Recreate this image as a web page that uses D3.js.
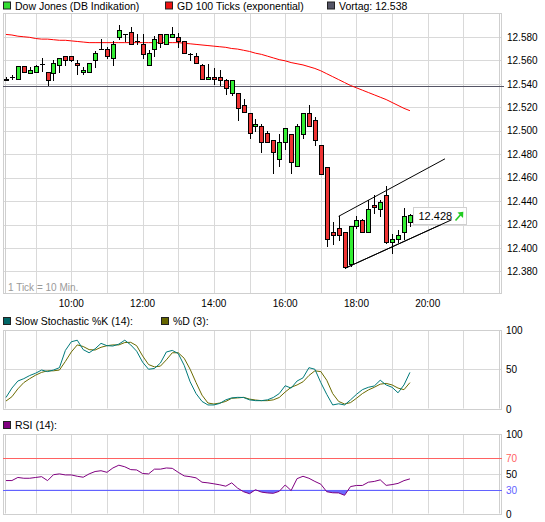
<!DOCTYPE html>
<html><head><meta charset="utf-8">
<script src="https://cdn.jsdelivr.net/npm/d3@7"></script>
<style>
body{margin:0;background:#fff;}
text{font-family:"Liberation Sans",Arial,sans-serif;}
</style>
</head><body>
<svg id="c" width="545" height="522"></svg>
<script>
// ---------- DATA ----------
const startMinute = 490;          // first candle 08:10
const tickMinutes = 10;           // 1 Tick = 10 Min.
const opens  = [12543,12546,12544,12555,12549,12550,12557,12550,12549,12556,12564,12564,12558,12550,12550,12560,12570,12570,12562,12580,12582,12584,12576,12574,12556,12570,12582,12574,12580,12580,12576,12565,12564,12556,12544,12546,12546,12543,12532,12532,12522,12515,12504,12504,12498,12492,12476,12490,12497,12470,12497,12515,12509,12488,12469,12414,12417,12414,12386,12419,12424,12414,12437,12433,12445,12405,12408,12414,12422];
const highs  = [12546,12547,12555,12555,12554,12556,12562,12550,12560,12562,12564,12564,12560,12554,12558,12568,12578,12571,12576,12590,12582,12588,12582,12582,12569,12581,12582,12582,12588,12583,12576,12566,12566,12557,12557,12553,12552,12544,12543,12532,12527,12515,12510,12506,12500,12492,12497,12502,12497,12506,12515,12522,12512,12488,12469,12422,12427,12414,12419,12427,12425,12441,12445,12441,12453,12412,12415,12434,12429];
const lows   = [12543,12544,12544,12550,12549,12550,12551,12539,12543,12550,12556,12559,12548,12548,12550,12554,12570,12562,12556,12578,12576,12574,12574,12562,12556,12564,12571,12574,12580,12571,12566,12560,12558,12544,12544,12540,12539,12531,12530,12509,12516,12494,12500,12482,12490,12464,12470,12484,12464,12470,12494,12504,12488,12463,12402,12403,12407,12383,12385,12417,12414,12414,12430,12427,12404,12396,12405,12408,12419];
const closes = [12544,12546,12555,12550,12552,12555,12557,12543,12558,12562,12560,12560,12556,12552,12558,12566,12570,12564,12574,12586,12582,12574,12576,12565,12566,12578,12575,12582,12582,12576,12566,12565,12558,12544,12546,12544,12543,12536,12543,12519,12516,12498,12506,12490,12490,12482,12490,12502,12473,12504,12515,12504,12492,12463,12408,12411,12411,12384,12419,12424,12414,12433,12435,12439,12405,12408,12411,12427,12428];
const ema100 = [12582,12581.5,12580.5,12580,12579.5,12578.5,12578,12578,12577.5,12577,12577,12576.5,12576,12575.5,12575,12575,12575,12575,12575,12575,12575,12575,12575,12575,12575,12575,12575,12575,12575,12575,12574.5,12574,12573.5,12573,12572.5,12572,12571.5,12571,12570,12569.5,12568.5,12567.5,12566,12565,12563.5,12562,12560.5,12559.5,12558,12557,12556,12554.5,12553,12551,12548.5,12546,12543.5,12541,12538.5,12536.5,12534.5,12532.5,12530.5,12528.5,12526.5,12524,12521.5,12519,12517];
const stochK = [14,26,35,38,42,45,49,47,49,52,74,85,87,75,71,76,83,80,79.6,82,87,81,73,59,50,51,58,72,74,70,55,34,19,9,4.5,4.5,6.5,11,13.5,14.2,14,11,10,10,11,14,19,29,26,35,39,52,50,33,18,4.5,6,4.5,11,18,24,27,28.7,36,30,27,20,30,46];
const stochD = [9.5,15,25,33,38,42.5,46,48,48,49,60,72,81,79,75,74.5,78,80,81,81,84,84.3,80,67,56,53,54,62,71,71,64,50,33,17,7,5.7,7,9,13,13.5,14.2,12,10.8,10,10,11,14,21,27,30,34,42,48,47,36,19,9,5.7,7.5,13,19,23.6,27,31,32,30,26,24,33];
const rsi14  = [41.6,41.6,45.5,44.5,44.5,45.5,46.5,41.5,49,50,48.7,48.7,47,45.8,50,53,54,52,57.5,61,59,55.4,55,50.5,50,56,56,57.5,57,52,47.5,46.5,45,39.5,38.7,37.5,36.2,34.5,38.7,32,27.5,25,30,27,26,25.5,28,36,29,44,47,44.5,40.5,37,27.5,26.2,26,23,34,35.4,35.4,39.5,40.5,42.5,35.5,36.5,38,41.5,43.7];
const priceTicks = [12380,12400,12420,12440,12460,12480,12500,12520,12540,12560,12580];
const hourGrid = [540,600,660,720,780,840,900,960,1020,1080,1140,1200,1260];
const hourLabels = [600,720,840,960,1080,1200];
const prevClose = 12538;
const channelUpper = [[1050,12427],[1229,12476]];
const channelLower = [[1062,12383],[1240,12424]];
const stochTicks = [0,50,100];
const rsiTicks = [0,30,50,70,100];

// ---------- LAYOUT ----------
const svg = d3.select("#c");
const L = 3, R = 502;
const main = {top:13.3, bottom:293.3};
const stP = {top:330, bottom:408.5};
const rsP = {top:434.3, bottom:513.5};
const gridCol = "#d9d9d9", frameCol = "#cfcfcf";

const x = d3.scaleLinear().domain([485,1325]).range([L,R]);
const y = d3.scaleLinear().domain([12361.4,12600]).range([main.bottom,main.top]);
const ys = d3.scaleLinear().domain([0,100]).range([stP.bottom,stP.top]);
const yr = d3.scaleLinear().domain([0,100]).range([rsP.bottom,rsP.top]);
const px = v => Math.round(v)+0.5;
const tOf = i => startMinute + tickMinutes*i;
const idx = d3.range(opens.length);

function panel(p, hTicks, yScale){
  const g = svg.append("g");
  g.selectAll(".vg").data(hourGrid).join("line")
    .attr("x1",d=>px(x(d))).attr("x2",d=>px(x(d)))
    .attr("y1",p.top).attr("y2",p.bottom).attr("stroke",gridCol);
  g.selectAll(".hg").data(hTicks).join("line")
    .attr("x1",L).attr("x2",R).attr("y1",d=>px(yScale(d))).attr("y2",d=>px(yScale(d))).attr("stroke",gridCol);
  // frame (double vertical edges)
  g.append("rect").attr("x",L+0.5).attr("y",px(p.top)).attr("width",R-L-1).attr("height",Math.round(p.bottom)-Math.round(p.top))
    .attr("fill","none").attr("stroke",frameCol);
  [L+2.5, R-2.5].forEach(xx=>g.append("line").attr("x1",xx).attr("x2",xx).attr("y1",p.top).attr("y2",p.bottom).attr("stroke",frameCol));
  return g;
}

function legend(items, yBase){
  items.forEach(it=>{
    svg.append("rect").attr("x",it.x+0.5).attr("y",yBase-7.5).attr("width",7).attr("height",7)
      .attr("fill",it.color).attr("stroke","#222");
    svg.append("text").attr("x",it.x+12).attr("y",yBase).attr("font-size","10.5px").attr("fill","#000").text(it.label);
  });
}

// ---------- MAIN PANEL ----------
panel(main, priceTicks.filter(v=>v!==12540), y);
// 12.540 gridline still drawn lightly
svg.append("line").attr("x1",L).attr("x2",R).attr("y1",px(y(12540))).attr("y2",px(y(12540))).attr("stroke",gridCol);
// previous close line
svg.append("line").attr("x1",L).attr("x2",R+2).attr("y1",px(y(prevClose))).attr("y2",px(y(prevClose)))
  .attr("stroke","#555566").attr("stroke-width",1);

// y labels
svg.selectAll(".pl").data(priceTicks).join("text")
  .attr("x",507).attr("y",d=>y(d)+3.8).attr("font-size","10px").attr("fill","#000")
  .text(d=>d3.format(".3f")(d/1000));
// x labels
const fmtH = m => (Math.floor(m/60))+":"+String(m%60).padStart(2,"0");
svg.selectAll(".xl").data(hourLabels).join("text")
  .attr("x",d=>x(d)).attr("y",307).attr("text-anchor","middle").attr("font-size","10px").attr("fill","#000")
  .text(fmtH);
svg.append("text").attr("x",8).attr("y",290.5).attr("font-size","10px").attr("fill","#9a9a9a").text("1 Tick = 10 Min.");

// EMA line
svg.append("path").datum(idx).attr("fill","none").attr("stroke","#ff0000").attr("stroke-width",1)
  .attr("d",d3.line().x(i=>x(tOf(i))).y(i=>y(ema100[i])));

// candles
const cg = svg.append("g");
idx.forEach(i=>{
  const cx = Math.round(x(tOf(i)));
  cg.append("line").attr("x1",cx+0.5).attr("x2",cx+0.5)
    .attr("y1",Math.round(y(highs[i]))).attr("y2",Math.round(y(lows[i]))+1).attr("stroke","#000");
  const top = Math.round(y(Math.max(opens[i],closes[i])));
  const bot = Math.round(y(Math.min(opens[i],closes[i])));
  const up = closes[i] >= opens[i];
  if (bot - top < 1){
    cg.append("line").attr("x1",cx-2).attr("x2",cx+3).attr("y1",top+0.5).attr("y2",top+0.5).attr("stroke","#000");
  } else {
    cg.append("rect").attr("x",cx-2+0.5).attr("y",top+0.5).attr("width",4).attr("height",bot-top)
      .attr("fill",up?"#33ee33":"#ee3333").attr("stroke","#000");
  }
});

// trend channel
[channelUpper, channelLower].forEach(seg=>{
  svg.append("line").attr("x1",x(seg[0][0])).attr("y1",y(seg[0][1]))
    .attr("x2",x(seg[1][0])).attr("y2",y(seg[1][1])).attr("stroke","#000").attr("stroke-width",1);
});

// last price box
const lastI = closes.length-1;
const bx = Math.round(x(tOf(lastI)))+3.5, by = Math.round(y(closes[lastI]))-7.5;
svg.append("rect").attr("x",bx).attr("y",by).attr("width",53).attr("height",17)
  .attr("fill","#fff").attr("fill-opacity",0.85).attr("stroke","#d0d0d0");
svg.append("text").attr("x",bx+5).attr("y",by+12.5).attr("font-size","11px").attr("fill","#000")
  .text(d3.format(".3f")(closes[lastI]/1000));
// redraw lower channel across box (line visible through it)
svg.append("line").attr("x1",x(channelLower[0][0])).attr("y1",y(channelLower[0][1]))
  .attr("x2",x(channelLower[1][0])).attr("y2",y(channelLower[1][1])).attr("stroke","#000");
// green arrow
const ax0 = bx+42, ay0 = by+13, ax1 = bx+49, ay1 = by+5;
svg.append("line").attr("x1",ax0).attr("y1",ay0).attr("x2",ax1).attr("y2",ay1).attr("stroke","#22cc22").attr("stroke-width",1.6);
svg.append("path").attr("d",`M${ax1+0.8},${ay1-0.8}L${ax1-5},${ay1}L${ax1+0.5},${ay1+5.5}Z`).attr("fill","#22cc22");

legend([
  {x:3,color:"#33dd33",label:"Dow Jones (DB Indikation)"},
  {x:165,color:"#ee1111",label:"GD 100 Ticks (exponential)"},
  {x:327,color:"#555566",label:"Vortag: 12.538"}
], 9.5);

// ---------- STOCHASTIC ----------
panel(stP, [50], ys);
svg.append("path").datum(idx).attr("fill","none").attr("stroke","#6b6b00")
  .attr("d",d3.line().x(i=>x(tOf(i))).y(i=>ys(stochD[i])));
svg.append("path").datum(idx).attr("fill","none").attr("stroke","#007a7a")
  .attr("d",d3.line().x(i=>x(tOf(i))).y(i=>ys(stochK[i])));
svg.selectAll(".sl").data(stochTicks).join("text")
  .attr("x",506).attr("y",d=>ys(d)+4).attr("font-size","10px").attr("fill","#000").text(d=>d);
legend([
  {x:3,color:"#006666",label:"Slow Stochastic %K (14):"},
  {x:161,color:"#666600",label:"%D (3):"}
], 325);

// ---------- RSI ----------
panel(rsP, [50], yr);
svg.append("clipPath").attr("id","below30").append("rect")
  .attr("x",L).attr("y",yr(30)).attr("width",R-L).attr("height",rsP.bottom-yr(30));
svg.append("path").datum(idx).attr("clip-path","url(#below30)").attr("fill","#6d6dff")
  .attr("d",d3.area().x(i=>x(tOf(i))).y0(yr(30)).y1(i=>yr(rsi14[i])));
svg.append("line").attr("x1",L).attr("x2",R).attr("y1",px(yr(70))).attr("y2",px(yr(70))).attr("stroke","#ff6262");
svg.append("line").attr("x1",L).attr("x2",R).attr("y1",px(yr(30))).attr("y2",px(yr(30))).attr("stroke","#6262ff");
svg.append("path").datum(idx).attr("fill","none").attr("stroke","#800080")
  .attr("d",d3.line().x(i=>x(tOf(i))).y(i=>yr(rsi14[i])));
svg.selectAll(".rl").data(rsiTicks).join("text")
  .attr("x",506).attr("y",d=>yr(d)+4).attr("font-size","10px")
  .attr("fill",d=>d===70?"#ff6262":d===30?"#6262ff":"#000").text(d=>d);
legend([{x:3,color:"#800080",label:"RSI (14):"}], 429);
</script>
</body></html>
